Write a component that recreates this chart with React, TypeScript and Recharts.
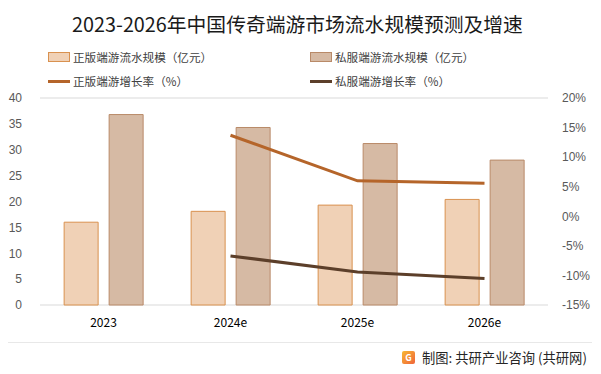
import { ComposedChart, Bar, Line, XAxis, YAxis, CartesianGrid, Legend } from "recharts";

const years = ["2023", "2024e", "2025e", "2026e"];
const officialScale = [16.0, 18.1, 19.3, 20.4];
const privateScale = [36.8, 34.3, 31.2, 28.0];
const officialGrowth: (number | null)[] = [null, 13.7, 6.0, 5.6];
const privateGrowth: (number | null)[] = [null, -6.7, -9.4, -10.5];
const leftTicks = [0, 5, 10, 15, 20, 25, 30, 35, 40];
const rightTicks = [-15, -10, -5, 0, 5, 10, 15, 20];

const data = years.map((year, i) => ({
  year,
  official: officialScale[i],
  private: privateScale[i],
  officialRate: officialGrowth[i],
  privateRate: privateGrowth[i],
}));

const font = "'Noto Sans CJK SC', 'Noto Sans', sans-serif";

const legendItems = [
  { label: "正版端游流水规模（亿元）", type: "bar", fill: "#F0D1B6", stroke: "#D9914F" },
  { label: "私服端游流水规模（亿元）", type: "bar", fill: "#D6BAA4", stroke: "#B98A68" },
  { label: "正版端游增长率（%）", type: "line", fill: "#B5652A", stroke: "#B5652A" },
  { label: "私服端游增长率（%）", type: "line", fill: "#5C3F2A", stroke: "#5C3F2A" },
];

const LegendBox = () => (
  <div style={{ position: "relative", width: 601, height: 50, fontFamily: font, fontSize: 11.6, color: "#404040" }}>
    {legendItems.map((it, i) => {
      const left = i % 2 === 0 ? 48 : 310;
      const top = i < 2 ? 5 : 29;
      return (
        <div key={it.label} style={{ position: "absolute", left, top, display: "flex", alignItems: "center", whiteSpace: "nowrap" }}>
          {it.type === "bar" ? (
            <span style={{ display: "inline-block", width: 20, height: 8, background: it.fill, border: `1px solid ${it.stroke}`, marginRight: 3 }} />
          ) : (
            <span style={{ display: "inline-block", width: 22, height: 3, background: it.fill, marginRight: 3 }} />
          )}
          <span>{it.label}</span>
        </div>
      );
    })}
  </div>
);

export default function App() {
  return (
    <div style={{ position: "absolute", left: 0, top: 0, width: 601, height: 374, background: "#fff" }}>
      <div
        style={{
          position: "absolute",
          top: 10,
          left: 0,
          width: 595,
          textAlign: "center",
          fontFamily: font,
          fontSize: 19.8,
          lineHeight: "28px",
          color: "#1a1a1a",
        }}
      >
        2023-2026年中国传奇端游市场流水规模预测及增速
      </div>
      <ComposedChart
        width={601}
        height={374}
        data={data}
        margin={{ top: 48, right: 0, bottom: 39, left: 0 }}
        barCategoryGap="19%"
        barGap={11}
      >
        <CartesianGrid vertical={false} stroke="#d9d9d9" />
        <XAxis
          dataKey="year"
          axisLine={false}
          tickLine={false}
          height={30}
          tick={{ fontSize: 12, fill: "#000", fontFamily: font }}
          tickMargin={7}
        />
        <YAxis
          yAxisId="left"
          domain={[0, 40]}
          ticks={leftTicks}
          width={40}
          axisLine={false}
          tickLine={false}
          tick={{ fontSize: 12, fill: "#595959", fontFamily: "'Liberation Sans', sans-serif" }}
          tickMargin={12}
        />
        <YAxis
          yAxisId="right"
          orientation="right"
          domain={[-15, 20]}
          ticks={rightTicks}
          tickFormatter={(v: number) => `${v}%`}
          width={53}
          axisLine={false}
          tickLine={false}
          tick={{ fontSize: 12, fill: "#595959", fontFamily: "'Liberation Sans', sans-serif", textAnchor: "start" }}
          tickMargin={8}
        />
        <Legend verticalAlign="top" align="left" height={50} wrapperStyle={{ top: 44, left: 0 }} content={() => <LegendBox />} />
        <Bar yAxisId="left" dataKey="official" fill="#F0D1B6" stroke="#D9914F" strokeWidth={1} isAnimationActive={false} />
        <Bar yAxisId="left" dataKey="private" fill="#D6BAA4" stroke="#B98A68" strokeWidth={1} isAnimationActive={false} />
        <Line yAxisId="right" type="linear" dataKey="officialRate" stroke="#B5652A" strokeWidth={3} dot={false} isAnimationActive={false} />
        <Line yAxisId="right" type="linear" dataKey="privateRate" stroke="#5C3F2A" strokeWidth={3} dot={false} isAnimationActive={false} />
      </ComposedChart>
      <div style={{ position: "absolute", left: 8, top: 342, width: 584, height: 1, background: "#e8e8e8" }} />
      <div
        style={{
          position: "absolute",
          left: 402,
          top: 348,
          display: "flex",
          alignItems: "center",
          fontFamily: font,
          fontSize: 13.3,
          color: "#262626",
          whiteSpace: "nowrap",
        }}
      >
        <span
          style={{
            display: "inline-block",
            width: 13,
            height: 13,
            borderRadius: 2,
            background: "linear-gradient(135deg, #F7B733, #F0643A)",
            color: "#fff",
            fontSize: 9,
            lineHeight: "13px",
            textAlign: "center",
            fontWeight: 700,
            marginRight: 7,
          }}
        >
          G
        </span>
        制图: 共研产业咨询 (共研网)
      </div>
    </div>
  );
}
